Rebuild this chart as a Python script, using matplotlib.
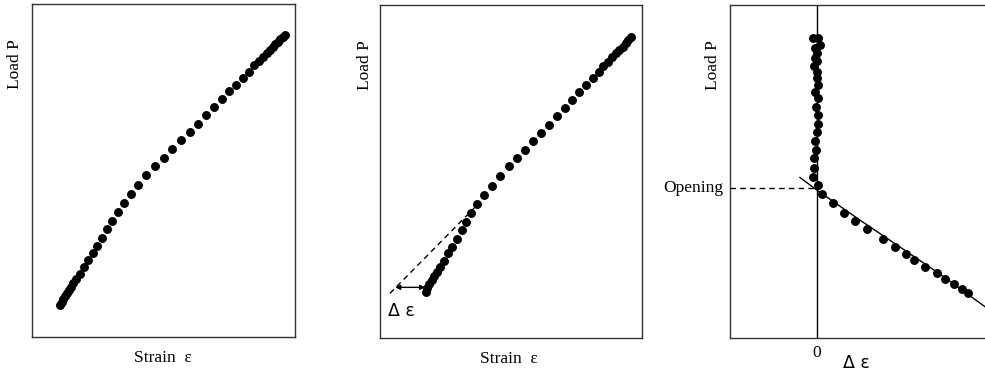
"""Schematic load-strain curves: raw, offset and crack-opening detection."""

import matplotlib
matplotlib.use("Agg")
import matplotlib.pyplot as plt

SERIF = ["Liberation Serif", "DejaVu Serif"]
SANS = ["DejaVu Sans"]

# Panel 1: load vs strain (normalised units)
strain_a = [0.105, 0.112, 0.118, 0.124, 0.131, 0.140, 0.147, 0.156, 0.166, 0.181,
            0.197, 0.213, 0.230, 0.246, 0.264, 0.283, 0.305, 0.326, 0.350, 0.374,
            0.402, 0.433, 0.466, 0.500, 0.533, 0.566, 0.599, 0.631, 0.661, 0.692,
            0.722, 0.750, 0.775, 0.801, 0.824, 0.844, 0.864, 0.879, 0.892, 0.905,
            0.915, 0.925, 0.935, 0.944, 0.953, 0.962]
load_a = [0.097, 0.107, 0.115, 0.124, 0.132, 0.142, 0.152, 0.162, 0.174, 0.190,
          0.212, 0.232, 0.252, 0.274, 0.297, 0.325, 0.350, 0.376, 0.404, 0.430,
          0.456, 0.486, 0.513, 0.540, 0.565, 0.592, 0.616, 0.642, 0.667, 0.692,
          0.715, 0.740, 0.758, 0.780, 0.798, 0.818, 0.829, 0.843, 0.853, 0.863,
          0.872, 0.880, 0.887, 0.895, 0.902, 0.908]

# Panel 2: load vs strain with linear extrapolation of the upper part
strain_b = [0.174, 0.180, 0.188, 0.197, 0.206, 0.216, 0.229, 0.243, 0.259, 0.276,
            0.294, 0.311, 0.328, 0.346, 0.368, 0.396, 0.427, 0.457, 0.490, 0.522,
            0.553, 0.584, 0.614, 0.645, 0.675, 0.705, 0.733, 0.760, 0.785, 0.811,
            0.834, 0.851, 0.869, 0.886, 0.900, 0.912, 0.925, 0.936, 0.947, 0.956]
load_b = [0.138, 0.150, 0.162, 0.175, 0.187, 0.200, 0.215, 0.233, 0.255, 0.275,
          0.299, 0.325, 0.350, 0.377, 0.403, 0.430, 0.457, 0.488, 0.516, 0.541,
          0.566, 0.593, 0.616, 0.642, 0.668, 0.693, 0.716, 0.739, 0.760, 0.781,
          0.800, 0.818, 0.831, 0.844, 0.856, 0.866, 0.876, 0.886, 0.895, 0.904]
extrap_strain = [0.038, 0.37]
extrap_load = [0.135, 0.40]
offset_strain = [0.058, 0.172]
offset_load = 0.153

# Panel 3: load vs strain difference
delta_eps = [-0.014, 0.005, 0.011, -0.008, -0.001, -0.008, 0.001, -0.010, -0.001,
             0.001, 0.005, -0.008, 0.003, -0.004, 0.004, 0.003, 0.001, -0.008,
             -0.004, -0.010, -0.010, -0.014, 0.005,
             0.020, 0.062, 0.103, 0.146, 0.190, 0.251, 0.299, 0.340, 0.370, 0.412,
             0.457, 0.489, 0.523, 0.552, 0.575]
load_c = [0.901, 0.901, 0.881, 0.871, 0.856, 0.841, 0.833, 0.819, 0.801, 0.781,
          0.761, 0.741, 0.721, 0.695, 0.671, 0.644, 0.619, 0.592, 0.565, 0.541,
          0.512, 0.485, 0.460,
          0.433, 0.405, 0.377, 0.352, 0.327, 0.299, 0.275, 0.253, 0.235, 0.214,
          0.195, 0.179, 0.162, 0.148, 0.137]
trend_eps = [-0.065, 0.0, 0.164, 0.317, 0.469, 0.641]
trend_load = [0.483, 0.445, 0.355, 0.274, 0.193, 0.095]
opening_load = 0.450

FS = 12.5
DOT = dict(marker="o", linestyle="none", color="black", markersize=5.4)


def style_frame(ax):
    for spine in ax.spines.values():
        spine.set_linewidth(1.0)
        spine.set_color("#333333")
    ax.set_xticks([])
    ax.set_yticks([])


fig = plt.figure(figsize=(9.85, 3.72), dpi=100)
ax1 = fig.add_axes([0.0328, 0.0933, 0.2667, 0.895])
ax2 = fig.add_axes([0.3858, 0.0906, 0.2663, 0.895])
ax3 = fig.add_axes([0.7411, 0.0906, 0.2660, 0.895])

# panel 1
ax1.plot(strain_a, load_a, **DOT)
ax1.set_xlim(0, 1)
ax1.set_ylim(0, 1)
style_frame(ax1)

# panel 2
ax2.plot(strain_b, load_b, **DOT)
ax2.plot(extrap_strain, extrap_load, color="black", lw=1.0, linestyle=(0, (4, 3)))
ax2.annotate("", xy=(offset_strain[0], offset_load), xytext=(offset_strain[1], offset_load),
             arrowprops=dict(arrowstyle="<|-|>", color="black", lw=1.0,
                             mutation_scale=7, shrinkA=0, shrinkB=0))
ax2.text(0.032, 0.082, "Δ ε", fontsize=FS, family=SANS, ha="left", va="center")
ax2.set_xlim(0, 1)
ax2.set_ylim(0, 1)
style_frame(ax2)

# panel 3
ax3.axvline(0, color="black", lw=1.0)
ax3.plot(trend_eps, trend_load, color="black", lw=1.0)
ax3.plot([-0.332, 0.0], [opening_load, opening_load], color="black", lw=1.0,
         linestyle=(0, (4, 3)))
ax3.plot(delta_eps, load_c, **DOT)
ax3.set_xlim(-0.332, 0.668)
ax3.set_ylim(0, 1)
style_frame(ax3)
ax3.text(0.0, -0.044, "0", transform=ax3.get_xaxis_transform(), fontsize=FS,
         family=SERIF, ha="center", va="center")
ax3.text(0.152, -0.074, "Δ ε", transform=ax3.get_xaxis_transform(), fontsize=FS,
         family=SANS, ha="center", va="center")
ax3.text(-0.026, opening_load, "Opening", transform=ax3.get_yaxis_transform(),
         fontsize=FS, family=SERIF, ha="right", va="center")

# axis labels placed by hand, near the top like the original
for ax, lx in ((ax1, -0.066), (ax2, -0.057), (ax3, -0.064)):
    ax.text(lx, 0.822, "Load P", transform=ax.transAxes, rotation=90,
            fontsize=FS, family=SERIF, ha="center", va="center")
for ax, cx in ((ax1, 0.497), (ax2, 0.492)):
    ax.text(cx, -0.063, "Strain  ε", transform=ax.transAxes, fontsize=FS,
            family=SERIF, ha="center", va="center")

fig.savefig("out.png", dpi=100)
